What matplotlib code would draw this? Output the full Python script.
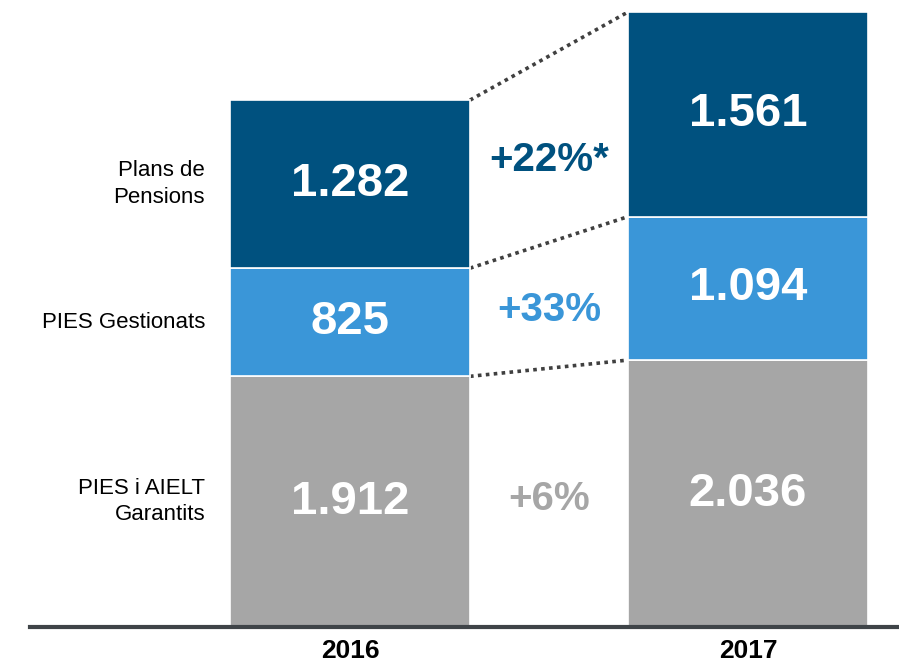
import numpy as np
import matplotlib.pyplot as plt

plt.rcParams['font.family'] = ['Liberation Sans', 'DejaVu Sans']

years = ['2016', '2017']
categories = ['PIES i AIELT\nGarantits', 'PIES Gestionats', 'Plans de\nPensions']
values_2016 = [1912, 825, 1282]
values_2017 = [2036, 1094, 1561]
value_labels_2016 = ['1.912', '825', '1.282']
value_labels_2017 = ['2.036', '1.094', '1.561']
growth_labels = ['+6%', '+33%', '+22%*']

colors = ['#a6a6a6', '#3a96d8', '#00517f']
growth_colors = ['#a6a6a6', '#3a96d8', '#00517f']

fig = plt.figure(figsize=(8.99, 6.67), dpi=100)
# axes: left at 30px, baseline at 627px, top at 12px
ax = fig.add_axes([30 / 899, 40 / 667, 869 / 899, 615 / 667])

x = np.arange(len(years))
width = 240 / 398
data = np.array([values_2016, values_2017])
bottoms = np.zeros(len(years))
for i in range(len(categories)):
    ax.bar(x, data[:, i], width, bottom=bottoms, color=colors[i],
           edgecolor='white', linewidth=1.2, zorder=2)
    labels = [value_labels_2016[i], value_labels_2017[i]]
    for j in range(len(years)):
        ax.text(x[j], bottoms[j] + data[j, i] / 2, labels[j], ha='center', va='center',
                color='white', fontsize=34, fontweight='bold', zorder=3)
    # category label left of the 2016 bar
    ax.text(x[0] - width / 2 - 25 / 398, bottoms[0] + data[0, i] / 2, categories[i],
            ha='right', va='center', fontsize=16, color='black', linespacing=1.35)
    # dotted connector between segment tops
    tops = bottoms + data[:, i]
    ax.plot([x[0] + width / 2, x[1] - width / 2], [tops[0], tops[1]],
            color='#404040', lw=2.6, linestyle=(0, (1, 1.2)), zorder=1,
            solid_capstyle='butt', dash_capstyle='butt')
    # growth label between bars
    c0 = bottoms[0] + data[0, i] / 2
    c1 = bottoms[1] + data[1, i] / 2
    ax.text((x[0] + x[1]) / 2, 0.65 * c0 + 0.35 * c1, growth_labels[i],
            ha='center', va='center', fontsize=29, fontweight='bold', color=growth_colors[i])
    bottoms = tops

ax.set_xlim(-320 / 398, 549 / 398)
ax.set_ylim(0, data.sum(axis=1).max())
for s in ['top', 'right', 'left']:
    ax.spines[s].set_visible(False)
ax.spines['bottom'].set_color('#3f4448')
ax.spines['bottom'].set_linewidth(3)
ax.spines['bottom'].set_zorder(4)
ax.set_yticks([])
ax.set_xticks(x)
ax.set_xticklabels(years, fontsize=19, fontweight='bold')
ax.tick_params(axis='x', length=0, pad=9)

fig.savefig('out.png', dpi=100)
